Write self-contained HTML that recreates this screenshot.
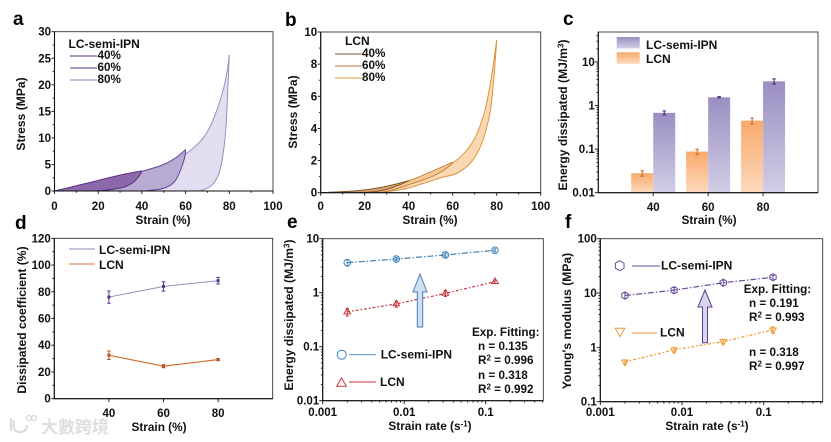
<!DOCTYPE html>
<html><head><meta charset="utf-8"><title>Mechanical properties of LC-semi-IPN and LCN</title>
<style>
html,body{margin:0;padding:0;background:#fff;width:831px;height:442px;overflow:hidden}
svg{display:block;filter:blur(.25px)}
text{font-family:"Liberation Sans","Noto Sans CJK TC",sans-serif;font-weight:bold;fill:#111}
</style></head>
<body>
<svg id="fig" xmlns="http://www.w3.org/2000/svg" width="831" height="442" viewBox="0 0 831 442">
<defs>
<linearGradient id="gradLC" x1="0" y1="0" x2="0" y2="1"><stop offset="0" stop-color="#9a8fc2"/><stop offset="1" stop-color="#d3cee6"/></linearGradient>
<linearGradient id="gradLCN" x1="0" y1="0" x2="0" y2="1"><stop offset="0" stop-color="#f8aa6c"/><stop offset="1" stop-color="#fcd9bd"/></linearGradient>
</defs>
</svg>
<script>
// Panel a: stress-strain loops [strain, stress]
const aLoad80 = [[0,0],[10,0.8],[20,1.7],[30,2.6],[40,3.5],[51,4.8],[60.5,7.1],[66.6,9.3],[70,11.2],[73.1,13.9],[76.5,18],[78.8,22],[80,25.6]];
const aUnload80 = [[80,25.6],[79.3,19],[78.5,12.1],[77,6.5],[75,3],[72,1.1],[68,0.2],[65,0]];
const aLoad60 = [[0,0],[10,0.9],[20,1.9],[30,2.8],[40,3.7],[50,5],[56,6.4],[60,7.8]];
const aUnload60 = [[60,7.8],[59.7,6.5],[58,4.3],[55,1.8],[50,0.5],[42,0.05],[35,0]];
const aLoad40 = [[0,0],[10,1],[20,2],[30,3],[40,3.8]];
const aUnload40 = [[40,3.8],[39,3],[36,1.6],[31.5,0.7],[22,0.1],[12,0]];
// Panel b
const bLoad80 = [[0,0],[15,0.1],[25,0.24],[40,0.72],[50,1.25],[59.5,1.83],[64.8,2.4],[70.1,3.4],[74.7,5.15],[77.7,7.3],[80,9.5]];
const bUnload80 = [[80,9.5],[79.7,8.88],[78.5,6.8],[76.9,4.94],[73.2,3.07],[68.6,1.93],[61.8,1.2],[55,0.95],[46,0.55],[37,0.2],[26,0]];
const bLoad60 = [[0,0],[15,0.1],[25,0.26],[40,0.75],[50,1.3],[60,1.9]];
const bUnload60 = [[60,1.9],[58,1.6],[50.5,1],[40,0.5],[31,0.1],[25,0]];
const bLoad40 = [[0,0],[15,0.1],[25,0.27],[33,0.5],[40,0.74]];
const bUnload40 = [[40,0.74],[36,0.5],[30,0.2],[25,0.07],[18,0]];
// Panel c
const cStrains = [40,60,80];
const cLC = [0.68,1.55,3.6];
const cLCerr = [0.07,0.05,0.5];
const cLCN = [0.028,0.088,0.45];
const cLCNerr = [0.004,0.012,0.07];
// Panel d
const dStrains = [40,60,80];
const dLC = [76,84,88.3];
const dLCerr = [4.6,3.5,2.5];
const dLCN = [32.5,24.3,29.3];
const dLCNerr = [3.2,1.1,0.8];
// Panel e
const rates = [0.002,0.008,0.032,0.13];
const eLC = [3.6,4.2,5.0,6.1];
const eLCerr = [0.5,0.3,0.4,0.4];
const eLCN = [0.44,0.62,0.97,1.6];
const eLCNerr = [0.07,0.08,0.12,0.12];
// Panel f
const fLC = [9,11.3,15.5,19.5];
const fLCerr = [1.1,1.4,1.8,1.6];
const fLCN = [0.54,0.9,1.28,2.1];
const fLCNerr = [0.05,0.1,0.12,0.3];
// Tick labels
const aXTicks = [0,20,40,60,80,100];
const aYTicks = [0,5,10,15,20,25,30];
const bYTicks = [0,2,4,6,8,10];
const dYTicks = [0,20,40,60,80,100,120];
const catTicks = [40,60,80];

const svg = document.getElementById('fig');
const NS = 'http://www.w3.org/2000/svg';
const XTITLE = 11.8, YTITLE = 12.1, LEG = 12, FIT = 11.7;
function mk(tag, attrs, name, parent){
  const el = document.createElementNS(NS, tag);
  for(const k in attrs) el.setAttribute(k, attrs[k]);
  
  
  (parent||svg).appendChild(el);
  return el;
}
function txt(x,y,s,name,o){
  o=o||{};
  const a={x:x,y:y,'font-size':o.size||11};
  if(o.anchor)a['text-anchor']=o.anchor;
  if(o.rot)a.transform='rotate(-90 '+x+' '+y+')';
  if(o.fill)a.style='fill:'+o.fill;
  const t=mk('text',a,name);
  t.textContent=s;
  return t;
}
function linScale(d0,d1,r0,r1){return v=>r0+(v-d0)/(d1-d0)*(r1-r0);}
function logScale(d0,d1,r0,r1){return v=>r0+(Math.log10(v)-Math.log10(d0))/(Math.log10(d1)-Math.log10(d0))*(r1-r0);}
function smooth(pts){
  let d='M'+pts[0][0]+' '+pts[0][1];
  for(let i=0;i<pts.length-1;i++){
    const p0=pts[Math.max(0,i-1)],p1=pts[i],p2=pts[i+1],p3=pts[Math.min(pts.length-1,i+2)];
    const t=0.16;
    d+=' C'+(p1[0]+(p2[0]-p0[0])*t)+' '+(p1[1]+(p2[1]-p0[1])*t)+' '+(p2[0]-(p3[0]-p1[0])*t)+' '+(p2[1]-(p3[1]-p1[1])*t)+' '+p2[0]+' '+p2[1];
  }
  return d;
}
function frame(L,R,T,B,name){
  mk('rect',{x:L,y:T,width:R-L,height:B-T,fill:'none',stroke:'#333','stroke-width':0.9},name+'-frame');
  mk('line',{x1:L,x2:L,y1:T,y2:B,stroke:'#111','stroke-width':1.1},name+'-y-axis');
  mk('line',{x1:L,x2:R,y1:B,y2:B,stroke:'#111','stroke-width':1.1},name+'-x-axis');
}
function xTick(px,B,len,name){mk('line',{x1:px,x2:px,y1:B,y2:B+len,stroke:'#111','stroke-width':0.9},name);}
function yTick(py,L,len,name){mk('line',{x1:L-len,x2:L,y1:py,y2:py,stroke:'#111','stroke-width':0.9},name);}

function linearPanel(p){
  frame(p.L,p.R,p.T,p.B,p.name);
  p.xTicks.forEach(v=>{
    xTick(p.x(v),p.B,3,p.name+'-x-tick');
    txt(p.x(v),p.xLabelY,v,p.name+'-x-tick-label',{anchor:'middle',size:11.5});
  });
  for(let i=0;i<p.xTicks.length-1;i++){
    if(p.minorX) xTick(p.x((p.xTicks[i]+p.xTicks[i+1])/2),p.B,1.8,p.name+'-x-minor-tick');
  }
  p.yTicks.forEach((v,i)=>{
    yTick(p.y(v),p.L,3,p.name+'-y-tick');
    txt(p.L-3.5,p.y(v)+4,v,p.name+'-y-tick-label',{anchor:'end',size:11.5});
    if(i<p.yTicks.length-1) yTick(p.y((v+p.yTicks[i+1])/2),p.L,1.8,p.name+'-y-minor-tick');
  });
}
function logMinorX(L,R,B,x,name){
  for(let e=-3;e<=0;e++)for(let m=1;m<10;m++){
    const v=m*Math.pow(10,e),px=x(v);
    if(px<L-0.1||px>R+0.1)continue;
    xTick(px,B,m===1?3.5:1.8,name+(m===1?'-x-tick':'-x-minor-tick'));
  }
}
function logMinorY(T,B,L,y,d0,name){
  const e0=Math.round(Math.log10(d0));
  for(let e=e0;e<=e0+4;e++)for(let m=1;m<10;m++){
    const v=m*Math.pow(10,e),py=y(v);
    if(py<T-0.1||py>B+0.1)continue;
    yTick(py,L,m===1?3.5:1.8,name+(m===1?'-y-tick':'-y-minor-tick'));
  }
}
function loop(load,unload,x,y,fill,stroke,sw,name){
  const la=load.map(p=>[x(p[0]),y(p[1])]);
  const un=unload.map(p=>[x(p[0]),y(p[1])]);
  const d1=smooth(la);
  const d2=smooth(un);
  // closed region: along loading curve to the peak, back down the unloading curve
  mk('path',{d:d1+' '+d2.replace(/^M/,'L')+' Z',fill:fill,stroke:'none'},name+'-area');
  mk('path',{d:d1,fill:'none',stroke:stroke,'stroke-width':sw},name+'-loading-curve');
  mk('path',{d:d2,fill:'none',stroke:stroke,'stroke-width':sw},name+'-unloading-curve');
}
function errBar(px,y1,y2,color,w,name){
  mk('path',{d:'M'+px+' '+y1+'V'+y2+'M'+(px-w)+' '+y1+'H'+(px+w)+'M'+(px-w)+' '+y2+'H'+(px+w),fill:'none',stroke:color,'stroke-width':1},name);
}

// PANEL LETTERS
[['a',13,25],['b',285,26],['c',563,25],['d',15,229],['e',287,228],['f',565,228]].forEach(l=>{
  txt(l[1],l[2],l[0],'panel-label-'+l[0],{size:19,fill:'#000'});
});

// PANEL A
(function(){
  const x=linScale(0,100,54.5,273),y=linScale(0,30,191,31.7);
  loop(aLoad80,aUnload80,x,y,'#e2deef','#9186bd',0.9,'a-80-percent');
  loop(aLoad60,aUnload60,x,y,'#b7abd3','#55398c',0.9,'a-60-percent');
  loop(aLoad40,aUnload40,x,y,'#8a68ab','#57287e',0.9,'a-40-percent');
  linearPanel({L:54.5,R:273,T:31.7,B:191,x:x,y:y,xTicks:aXTicks,yTicks:aYTicks,minorX:true,xLabelY:210,name:'a'});
  txt(163,224,'Strain (%)','a-x-axis-title',{anchor:'middle',size:XTITLE});
  txt(25,114,'Stress (MPa)','a-y-axis-title',{anchor:'middle',rot:1,size:YTITLE});
  txt(68.5,48,'LC-semi-IPN','a-legend-title',{size:LEG});
  [['40%','#5b2b82',56,59],['60%','#55398c',68,71],['80%','#9186bd',80,83]].forEach(r=>{
    mk('line',{x1:70,x2:97,y1:r[2],y2:r[2],stroke:r[1],'stroke-width':1},'a-legend-line');
    txt(97.5,r[3],r[0],'a-legend-label',{size:11.7});
  });
})();

// PANEL B
(function(){
  const x=linScale(0,100,320.7,540.7),y=linScale(0,10,192.7,32);
  loop(bLoad80,bUnload80,x,y,'#f9d8b2','#dc8c2c',0.9,'b-80-percent');
  loop(bLoad60,bUnload60,x,y,'#f5c894','#bd7c36',0.9,'b-60-percent');
  loop(bLoad40,bUnload40,x,y,'#d6a36b','#7b4f26',0.9,'b-40-percent');
  linearPanel({L:320.7,R:540.7,T:32,B:192.7,x:x,y:y,xTicks:aXTicks,yTicks:bYTicks,minorX:true,xLabelY:210,name:'b'});
  txt(430,224,'Strain (%)','b-x-axis-title',{anchor:'middle',size:XTITLE});
  txt(297,112,'Stress (MPa)','b-y-axis-title',{anchor:'middle',rot:1,size:YTITLE});
  txt(345,45,'LCN','b-legend-title',{size:LEG});
  [['40%','#7b5a3e',54,57],['60%','#b9793a',66,69],['80%','#e2963c',78,81]].forEach(r=>{
    mk('line',{x1:335,x2:362,y1:r[2],y2:r[2],stroke:r[1],'stroke-width':1},'b-legend-line');
    txt(362,r[3],r[0],'b-legend-label',{size:11.7});
  });
})();

// PANEL C
(function(){
  const L=598.3,R=818,T=32,B=192.7;
  const x=linScale(20,100,L,R),y=logScale(0.01,10,B,62);
  const bw=22;
  cStrains.forEach((s,i)=>{
    const c=x(s);
    mk('rect',{x:c-bw,y:y(cLCN[i]),width:bw,height:B-y(cLCN[i]),fill:'url(#gradLCN)'},'c-bar-lcn-'+s);
    mk('rect',{x:c,y:y(cLC[i]),width:bw,height:B-y(cLC[i]),fill:'url(#gradLC)'},'c-bar-lc-semi-ipn-'+s);
    errBar(c-bw/2,y(cLCN[i]+cLCNerr[i]),y(cLCN[i]-cLCNerr[i]),'#c8662a',1.8,'c-error-lcn-'+s);
    errBar(c+bw/2,y(cLC[i]+cLCerr[i]),y(cLC[i]-cLCerr[i]),'#4a1f7a',1.8,'c-error-lc-semi-ipn-'+s);
  });
  frame(L,R,T,B,'c');
  catTicks.forEach(v=>{
    xTick(x(v),B,3.5,'c-x-tick');
    txt(x(v),211,v,'c-x-tick-label',{anchor:'middle',size:11.5});
  });
  logMinorY(T,B,L,y,0.01,'c');
  [[0.01,'0.01'],[0.1,'0.1'],[1,'1'],[10,'10']].forEach(r=>{
    txt(L-3.5,y(r[0])+4,r[1],'c-y-tick-label',{anchor:'end',size:11.5});
  });
  txt(709,224,'Strain (%)','c-x-axis-title',{anchor:'middle',size:XTITLE});
  const t=txt(567,115,'Energy dissipated (MJ/m','c-y-axis-title',{anchor:'middle',rot:1,size:YTITLE});
  const s1=mk('tspan',{dy:-3.5,'font-size':8},'c-y-axis-title-superscript',t);s1.textContent='3';
  const s2=mk('tspan',{dy:3.5},'c-y-axis-title-close',t);s2.textContent=')';
  mk('rect',{x:616.7,y:37,width:23,height:11.5,fill:'url(#gradLC)'},'c-legend-swatch-lc-semi-ipn');
  mk('rect',{x:616.7,y:52.3,width:23,height:11.5,fill:'url(#gradLCN)'},'c-legend-swatch-lcn');
  txt(646,49,'LC-semi-IPN','c-legend-label',{size:LEG});
  txt(646,63,'LCN','c-legend-label',{size:LEG});
})();

// PANEL D
(function(){
  const L=54.3,R=272.7,T=238.3,B=398.7;
  const x=linScale(20,100,L,R),y=linScale(0,120,B,T);
  linearPanel({L:L,R:R,T:T,B:B,x:x,y:y,xTicks:[],yTicks:dYTicks,xLabelY:417,name:'d'});
  catTicks.forEach(v=>{
    xTick(x(v),B,3.5,'d-x-tick');
    txt(x(v),417,v,'d-x-tick-label',{anchor:'middle',size:11.5});
  });
  [[dLC,dLCerr,'#8e84bb','#5a3a90','lc-semi-ipn',0.9],[dLCN,dLCNerr,'#cf6a2c','#b9501e','lcn',1.1]].forEach(r=>{
    const pts=r[0].map((v,i)=>x(dStrains[i])+','+y(v)).join(' ');
    mk('polyline',{points:pts,fill:'none',stroke:r[2],'stroke-width':r[5]},'d-line-'+r[4]);
    r[0].forEach((v,i)=>{
      const px=x(dStrains[i]);
      errBar(px,y(v+r[1][i]),y(v-r[1][i]),r[3],1.8,'d-error-'+r[4]);
      mk('rect',{x:px-1.5,y:y(v)-1.5,width:3,height:3,fill:r[3]},'d-point-'+r[4]);
    });
  });
  mk('line',{x1:69,x2:95,y1:249,y2:249,stroke:'#8e84bb','stroke-width':0.9},'d-legend-line-lc-semi-ipn');
  mk('line',{x1:69,x2:95,y1:264,y2:264,stroke:'#d4763a','stroke-width':1.1},'d-legend-line-lcn');
  txt(99,254,'LC-semi-IPN','d-legend-label',{size:LEG});
  txt(99,269,'LCN','d-legend-label',{size:LEG});
  txt(159,431,'Strain (%)','d-x-axis-title',{anchor:'middle',size:XTITLE});
  txt(26,320,'Dissipated coefficient (%)','d-y-axis-title',{anchor:'middle',rot:1,size:YTITLE});
  // watermark
  mk('path',{d:'M11 418V431M14 420Q12 433 21 432Q27 431 27 425',fill:'none',stroke:'#dcdcdc','stroke-width':2.2},'watermark-logo-stroke');
  mk('circle',{cx:29,cy:418,r:2.5,fill:'none',stroke:'#d4d4d4','stroke-width':1.2},'watermark-logo-dot');
  mk('circle',{cx:34,cy:418,r:2.5,fill:'none',stroke:'#d4d4d4','stroke-width':1.2},'watermark-logo-dot');
  txt(41,433,'大數跨境','watermark-text',{size:17,fill:'#dedede'});
})();

function logPanel(p){
  frame(p.L,p.R,p.T,p.B,p.name);
  logMinorX(p.L,p.R,p.B,p.x,p.name);
  logMinorY(p.T,p.B,p.L,p.y,p.yMin,p.name);
  [[0.001,'0.001'],[0.01,'0.01'],[0.1,'0.1']].forEach(r=>{
    txt(p.x(r[0]),p.xLabelY,r[1],p.name+'-x-tick-label',{anchor:'middle',size:11.5});
  });
  p.yLabels.forEach(r=>{
    txt(p.L-3.5,p.y(r[0])+4,r[1],p.name+'-y-tick-label',{anchor:'end',size:11.5});
  });
  const t=txt(p.titleX,p.titleY,'Strain rate (s','x-axis-title-'+p.name,{anchor:'middle',size:XTITLE});
  const s1=mk('tspan',{dy:-3.5,'font-size':8},p.name+'-x-title-superscript',t);s1.textContent='-1';
  const s2=mk('tspan',{dy:3.5},p.name+'-x-title-close',t);s2.textContent=')';
}
function series(vals,errs,x,y,color,dash,marker,name){
  const pts=vals.map((v,i)=>x(rates[i])+','+y(v)).join(' ');
  mk('polyline',{points:pts,fill:'none',stroke:color,'stroke-width':1.2,'stroke-dasharray':dash},name+'-fit-line');
  vals.forEach((v,i)=>{
    const px=x(rates[i]),py=y(v);
    errBar(px,y(v+errs[i]),y(v-errs[i]),color,1.6,name+'-error');
    marker(px,py,3.3,color,1,name+'-point');
  });
}
function circ(px,py,r,c,w,n){mk('circle',{cx:px,cy:py,r:r,fill:'none',stroke:c,'stroke-width':w},n);}
function poly(px,py,r,c,w,n,start,k){
  const pts=[];
  for(let i=0;i<k;i++){const a=start+i*2*Math.PI/k;pts.push((px+r*Math.cos(a))+','+(py+r*Math.sin(a)));}
  mk('polygon',{points:pts.join(' '),fill:'none',stroke:c,'stroke-width':w},n);
}
function triUp(px,py,r,c,w,n){poly(px,py,r*1.15,c,w,n,-Math.PI/2,3);}
function triDown(px,py,r,c,w,n){poly(px,py,r*1.15,c,w,n,Math.PI/2,3);}
function hex(px,py,r,c,w,n){poly(px,py,r*1.1,c,w,n,-Math.PI/2,6);}
function r2(x,y,val,name){
  const t=txt(x,y,'R','fit-r-squared-'+name,{size:FIT});
  const s1=mk('tspan',{dy:-3.5,'font-size':8},'r-squared-superscript',t);s1.textContent='2';
  const s2=mk('tspan',{dy:3.5},'r-squared-value',t);s2.textContent=' = '+val;
}
function arrow(cx,tip,base,bottom,hw,sw,fill,stroke,name){
  mk('polygon',{points:[[cx,tip],[cx+hw,base],[cx+sw,base],[cx+sw,bottom],[cx-sw,bottom],[cx-sw,base],[cx-hw,base]].map(p=>p.join(',')).join(' '),fill:fill,stroke:stroke,'stroke-width':1},name);
}

// PANEL E
(function(){
  const L=322.7,R=543.3,T=238.7,B=400.7;
  const x=logScale(0.001,0.1,L,485.7),y=logScale(0.01,10,B,T);
  logPanel({L:L,R:R,T:T,B:B,x:x,y:y,yMin:0.01,xLabelY:416,name:'e',titleX:430,titleY:430,
    yLabels:[[0.01,'0.01'],[0.1,'0.1'],[1,'1'],[10,'10']]});
  series(eLC,eLCerr,x,y,'#3f83b8','6 2 1.5 2',circ,'e-lc-semi-ipn');
  series(eLCN,eLCNerr,x,y,'#c5373d','3 2 1.5 2',triUp,'e-lcn');
  arrow(420,274,292,327,7,2.7,'#cfe0f2','#4a7db5','e-increase-arrow');
  circ(341.7,354.7,4.5,'#3f83b8',1,'e-legend-marker-lc-semi-ipn');
  mk('line',{x1:349,x2:376,y1:354.7,y2:354.7,stroke:'#3f83b8','stroke-width':0.9},'e-legend-line-lc-semi-ipn');
  txt(380.7,358.5,'LC-semi-IPN','e-legend-label',{size:LEG});
  poly(341.5,383.5,5.6,'#c5373d',1,'e-legend-marker-lcn',-Math.PI/2,3);
  mk('line',{x1:349,x2:376,y1:382,y2:382,stroke:'#c5373d','stroke-width':0.9},'e-legend-line-lcn');
  txt(380,386,'LCN','e-legend-label',{size:LEG});
  txt(472,336,'Exp. Fitting:','e-fit-heading',{size:FIT});
  txt(478,350,'n = 0.135','e-fit-n',{size:FIT});
  r2(478,364,'0.996','e');
  txt(478,379,'n = 0.318','e-fit-n',{size:FIT});
  r2(478,393,'0.992','e');
  const t=txt(293,315,'Energy dissipated (MJ/m','e-y-axis-title',{anchor:'middle',rot:1,size:YTITLE});
  const s1=mk('tspan',{dy:-3.5,'font-size':8},'e-y-axis-title-superscript',t);s1.textContent='3';
  const s2=mk('tspan',{dy:3.5},'e-y-axis-title-close',t);s2.textContent=')';
})();

// PANEL F
(function(){
  const L=600.3,R=822.7,T=238.7,B=401.7;
  const x=logScale(0.001,0.1,L,763.7),y=logScale(0.1,100,B,T);
  logPanel({L:L,R:R,T:T,B:B,x:x,y:y,yMin:0.1,xLabelY:416,name:'f',titleX:707,titleY:430,
    yLabels:[[0.1,'0.1'],[1,'1'],[10,'10'],[100,'100']]});
  series(fLC,fLCerr,x,y,'#6a4f9c','6 2 1.5 2',hex,'f-lc-semi-ipn');
  series(fLCN,fLCNerr,x,y,'#ee9a34','3 2 1.5 2',triDown,'f-lcn');
  arrow(705,290,307,342.7,7,2.5,'#ddd5ee','#5a3d8f','f-increase-arrow');
  poly(619.7,265.7,5,'#6a4f9c',1,'f-legend-marker-lc-semi-ipn',-Math.PI/2,6);
  mk('line',{x1:632,x2:660,y1:266,y2:266,stroke:'#6a4f9c','stroke-width':0.9},'f-legend-line-lc-semi-ipn');
  txt(661,269.5,'LC-semi-IPN','f-legend-label',{size:LEG});
  poly(620,331,5.6,'#ee9a34',1,'f-legend-marker-lcn',Math.PI/2,3);
  mk('line',{x1:632,x2:657,y1:333,y2:333,stroke:'#ee9a34','stroke-width':0.9},'f-legend-line-lcn');
  txt(660,336.5,'LCN','f-legend-label',{size:LEG});
  txt(743.7,293,'Exp. Fitting:','f-fit-heading',{size:FIT});
  txt(749,307,'n = 0.191','f-fit-n',{size:FIT});
  r2(749,321,'0.993','f');
  txt(749,356,'n = 0.318','f-fit-n',{size:FIT});
  r2(749,370,'0.997','f');
  txt(571,321,"Young's modulus (MPa)",'f-y-axis-title',{anchor:'middle',rot:1,size:YTITLE});
})();
</script>
</body></html>
